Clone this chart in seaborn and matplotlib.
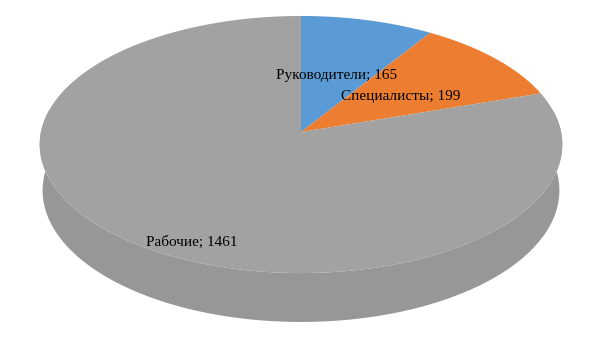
import numpy as np
import matplotlib
matplotlib.use("Agg")
import matplotlib.pyplot as plt
import seaborn as sns

# ---- data ----
categories = ["Руководители", "Специалисты", "Рабочие"]
values = [165, 199, 1461]
label_texts = [f"{c}; {v}" for c, v in zip(categories, values)]

sns.set_theme(style="white")
plt.rcParams["font.family"] = ["Liberation Serif", "DejaVu Serif"]
colors = ["#5B9BD5", "#ED7D31", "#A2A2A2"]
side_color = "#979797"

# ---- 3D projection parameters (perspective) ----
CX, CY = 301.0, 132.0        # projected centre of the pie top
sin_e = 0.4896
cos_e = np.sqrt(1 - sin_e ** 2)
D = 8.96                      # camera distance (radius = 1)
F = 2330.0                    # focal scale in pixels
H = 0.204                     # thickness of the pie


def proj(t, h=0.0):
    t = np.asarray(t)
    den = D + np.sin(t) * cos_e - h * sin_e
    sx = F * np.cos(t) / den
    sy = F * (np.sin(t) * sin_e + h * cos_e) / den
    return CX + sx, CY - sy


fig = plt.figure(figsize=(6.05, 3.40), dpi=100)
ax = fig.add_axes([0, 0, 1, 1])
ax.set_xlim(0, 605)
ax.set_ylim(340, 0)
ax.axis("off")

# side (front half of cylinder)
ts = np.radians(np.linspace(170, 370, 300))
xt, yt = proj(ts, 0.0)
xb, yb = proj(ts, -H)
ax.fill(np.concatenate([xt, xb[::-1]]), np.concatenate([yt, yb[::-1]]),
        color=side_color, lw=0)

# top face wedges, clockwise from 12 o'clock
total = float(sum(values))
start = 90.0
for v, c in zip(values, colors):
    span = 360.0 * v / total
    tt = np.radians(np.linspace(start, start - span, max(int(span * 2), 10)))
    x, y = proj(tt, 0.0)
    ax.fill(np.concatenate([[CX], x]), np.concatenate([[CY], y]), color=c, lw=0)
    start -= span

# labels
label_xy = [(337, 79), (401, 100), (192, 246)]
for txt, (lx, ly) in zip(label_texts, label_xy):
    ax.text(lx, ly, txt, ha="center", va="baseline", fontsize=11, color="#000000")

fig.savefig("out.png", dpi=100)
